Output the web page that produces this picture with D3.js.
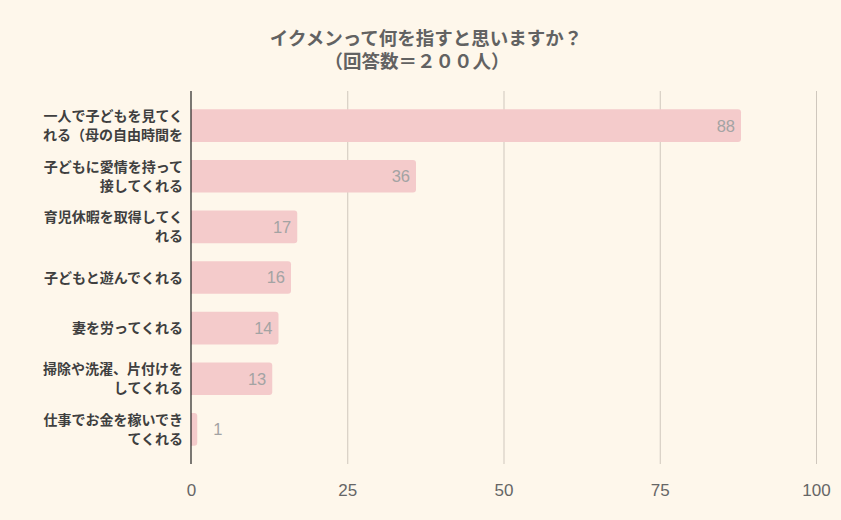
<!DOCTYPE html>
<html>
<head>
<meta charset="utf-8">
<script src="https://cdn.jsdelivr.net/npm/d3@7"></script>
<style>
  html, body { margin: 0; padding: 0; background: #fef7eb; }
  svg { display: block; }
</style>
</head>
<body>
<svg id="chart" width="841" height="520"></svg>
<script>
const titleLines = ["イクメンって何を指すと思いますか？", "（回答数＝２００人）"];
const categories = [
  "一人で子どもを見てく\nれる（母の自由時間を",
  "子どもに愛情を持って\n接してくれる",
  "育児休暇を取得してく\nれる",
  "子どもと遊んでくれる",
  "妻を労ってくれる",
  "掃除や洗濯、片付けを\nしてくれる",
  "仕事でお金を稼いでき\nてくれる"
];
const values = [88, 36, 17, 16, 14, 13, 1];
const xTicks = [0, 25, 50, 75, 100];

(function () {
const W = 841, H = 520;
const pLeft = 191, pRight = 816, pTop = 91, pBottom = 464;
const svg = d3.select("#chart");
svg.append("rect").attr("width", W).attr("height", H).attr("fill", "#fef7eb");

const x = d3.scaleLinear().domain([0, 100]).range([pLeft, pRight]);
const y = d3.scaleBand().domain(categories).range([pTop, pBottom])
  .paddingInner(0.355).paddingOuter(0.36);

const jp = "'Noto Sans CJK JP', 'Noto Sans', sans-serif";
const num = "'Liberation Sans Narrow', 'Liberation Sans', Arial, sans-serif";

// title
const titleX = [426, 417];
svg.append("g").selectAll("text").data(titleLines).join("text")
  .attr("x", (d, i) => titleX[i]).attr("y", (d, i) => 45 + i * 23)
  .attr("text-anchor", "middle")
  .attr("font-family", jp).attr("font-weight", "bold").attr("font-size", 18.5)
  .attr("fill", "#626262")
  .text(d => d);

// gridlines
const xAxis = d3.axisBottom(x).tickValues(xTicks).tickSize(-(pBottom - pTop)).tickFormat(d3.format("d"));
const gx = svg.append("g").attr("transform", `translate(0,${pBottom})`).call(xAxis);
gx.select(".domain").remove();
gx.selectAll(".tick line").attr("stroke", "#cfc7bd").attr("stroke-width", 1)
  .filter(d => d === 0).remove();
gx.selectAll(".tick text").attr("y", 20)
  .attr("font-family", num).attr("font-size", 17).attr("fill", "#666");

// bars
const bw = y.bandwidth();
svg.append("g").selectAll("path").data(values).join("path")
  .attr("fill", "#f4cbcb")
  .attr("d", (d, i) => {
    const x0 = x(0), x1 = x(d), y0 = y(categories[i]), r = Math.min(3, (x1 - x0) / 2);
    return `M${x0},${y0}H${x1 - r}Q${x1},${y0} ${x1},${y0 + r}V${y0 + bw - r}Q${x1},${y0 + bw} ${x1 - r},${y0 + bw}H${x0}Z`;
  });

// value labels
svg.append("g").selectAll("text").data(values).join("text")
  .attr("x", d => d >= 5 ? x(d) - 6 : x(d) + 16)
  .attr("y", (d, i) => y(categories[i]) + bw / 2)
  .attr("dy", "0.36em")
  .attr("text-anchor", d => d >= 5 ? "end" : "start")
  .attr("font-family", num).attr("font-size", 16.5).attr("fill", "#a3a3a3")
  .text(d => d);

// axis line
svg.append("line").attr("x1", x(0)).attr("x2", x(0)).attr("y1", pTop).attr("y2", pBottom)
  .attr("stroke", "#222").attr("stroke-width", 1.2);

// category labels
const lab = svg.append("g").selectAll("text").data(categories).join("text")
  .attr("text-anchor", "end")
  .attr("font-family", jp).attr("font-weight", "bold").attr("font-size", 14)
  .attr("fill", "#3f3f3f");
lab.each(function(d) {
  const lines = d.split("\n");
  const cy = y(d) + bw / 2;
  const n = lines.length;
  d3.select(this).selectAll("tspan").data(lines).join("tspan")
    .attr("x", 183)
    .attr("y", (l, i) => cy + (i - (n - 1) / 2) * 19)
    .attr("dy", "0.36em")
    .text(l => l);
});
})();
</script>
</body>
</html>
